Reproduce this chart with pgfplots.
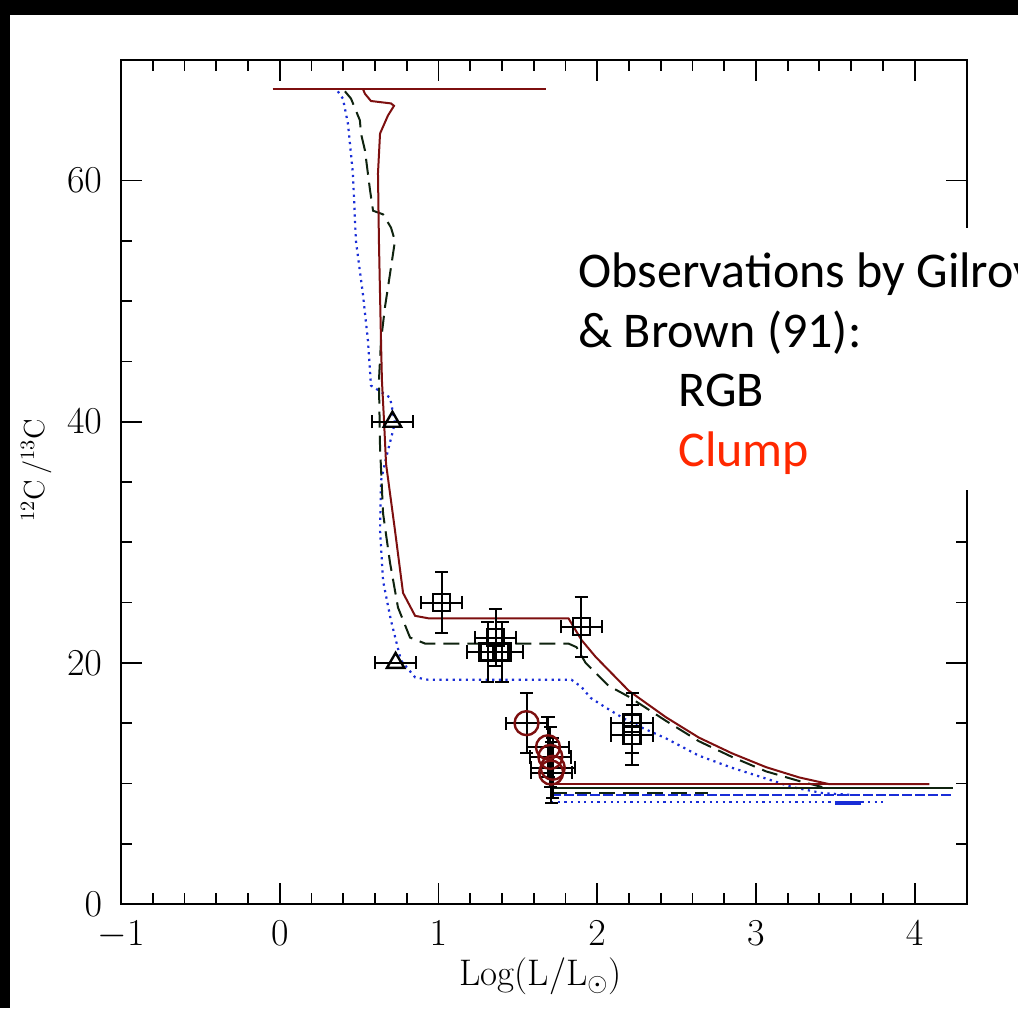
\RequirePackage{fix-cm}
\documentclass[border=0pt]{standalone}
\usepackage{pgfplots}
\pgfplotsset{compat=1.18}
\usepackage{fontspec}
\newfontfamily\calibri{Carlito}
\definecolor{dred}{RGB}{125,15,15}
\definecolor{dblue}{RGB}{25,45,215}
\definecolor{dgreen}{RGB}{15,35,15}
\definecolor{clumpred}{RGB}{255,40,0}
\begin{document}
\begin{tikzpicture}[x=1pt,y=1pt]
\path[use as bounding box] (0,0) rectangle (509,504);
\fill[white] (0,0) rectangle (509,504);
\fill[black] (0,0) rectangle (5,504);
\fill[black] (0,496.5) rectangle (509,504);
\begin{axis}[at={(60.5pt,52pt)}, anchor=south west, scale only axis,
  width=423pt, height=422pt,
  xmin=-1, xmax=4.33, ymin=0, ymax=70,
  xtick={-1,0,1,2,3,4}, minor x tick num=4,
  ytick={0,20,40,60}, minor y tick num=3,
  major tick length=10.5pt, minor tick length=5.3pt,
  axis line style={line width=1.1pt},
  every tick/.style={line width=0.9pt, black},
  ticklabel style={font=\fontsize{19}{22}\selectfont},
  xticklabel style={yshift=-5.2pt},
  yticklabel style={xshift=-6pt},
  xlabel={Log(L/L$_\odot$)},
  xlabel style={at={(axis description cs:0.496,-0.086)}, anchor=center, font=\fontsize{18.5}{21}\selectfont},
  ylabel={$^{12}$C$\,$/$^{13}$C},
  ylabel style={at={(axis description cs:-0.1,0.514)}, anchor=center, font=\fontsize{14.5}{17}\selectfont},
]
% top horizontal (dark red)
\addplot[dred, line width=1pt] coordinates {(-0.044,67.6) (1.68,67.6)};
% blue dotted track
\addplot[dblue, line width=1.1pt, dash pattern=on 1.1pt off 2.2pt] coordinates {
(0.366,67.4) (0.398,66.8) (0.430,64.7) (0.461,60.6) (0.480,55.0) (0.524,50.6)
(0.556,46.7) (0.575,43.0) (0.695,42.0) (0.726,39.9) (0.670,37.0) (0.638,35.1)
(0.632,31.0) (0.651,26.8) (0.701,23.5) (0.764,20.2) (0.853,18.8) (0.935,18.6)
(1.838,18.6) (1.901,18.0) (1.958,17.1) (2.053,16.3) (2.217,15.0) (2.432,13.75)
(2.641,12.3) (2.849,11.3) (3.064,10.4) (3.228,9.7) (3.418,9.2) (3.60,9.05)};
\addplot[dblue, line width=1.1pt, dash pattern=on 5pt off 1.5pt] coordinates {(1.71,9.03) (4.24,9.03)};
\addplot[dblue, line width=1.1pt, dash pattern=on 1.1pt off 2.2pt] coordinates {(1.71,8.48) (3.80,8.48)};
\addplot[dblue, line width=1.8pt] coordinates {(3.50,8.40) (3.66,8.40)};
% black dashed track
\addplot[dgreen, line width=1pt, dash pattern=on 8pt off 4pt] coordinates {
(0.411,67.4) (0.449,66.8) (0.505,65.0) (0.512,63.9) (0.537,62.5) (0.569,59.2)
(0.588,57.5) (0.651,57.2) (0.701,56.1) (0.726,55.0) (0.701,52.8) (0.663,49.5)
(0.638,46.7) (0.625,43.4) (0.632,37.9) (0.651,32.4) (0.695,28.3) (0.745,24.6)
(0.821,22.1) (0.916,21.6) (1.819,21.6) (1.870,21.3) (1.927,20.0) (2.072,18.1)
(2.198,17.2) (2.432,15.2) (2.641,13.5) (2.849,12.2) (3.064,11.0) (3.272,10.2)
(3.418,9.7)};
\addplot[dgreen, line width=1pt] coordinates {(1.71,9.65) (4.24,9.65)};
\addplot[dgreen, line width=1pt, dash pattern=on 8pt off 4pt] coordinates {(1.71,9.2) (2.70,9.2)};
% dark red solid track
\addplot[dred, line width=1pt] coordinates {
(0.524,67.6) (0.537,67.2) (0.575,66.6) (0.701,66.4) (0.720,66.2) (0.682,65.4)
(0.632,63.9) (0.619,60.6) (0.625,55.0) (0.638,46.7) (0.644,43.4) (0.657,40.1)
(0.670,36.5) (0.726,31.0) (0.777,25.8) (0.853,23.9) (0.935,23.7) (1.819,23.7)
(1.901,21.9) (1.990,20.5) (2.198,17.7) (2.432,15.5) (2.641,13.8) (2.849,12.5)
(3.064,11.35) (3.272,10.5) (3.462,9.94) (4.093,9.94)};
\addplot[dred, line width=1pt] coordinates {(1.71,9.94) (3.46,9.94)};
% RGB squares
\addplot[black, only marks, mark=square, mark size=4.3pt, mark options={line width=1.2pt},
  error bars/.cd, x dir=both, y dir=both, x explicit, y explicit,
  error bar style={line width=1pt, black}, error mark options={rotate=90, line width=1pt, mark size=3.3pt, black}]
  table[x=x, y=y, x error=ex, y error=ey] {
x y ex ey
1.02 25.0 0.13 2.5
1.36 22.1 0.13 2.4
1.31 20.9 0.13 2.5
1.40 20.9 0.13 2.5
1.90 23.0 0.13 2.5
2.22 15.0 0.13 2.5
2.22 14.0 0.13 2.5
};
% triangles
\addplot[black, only marks, mark=triangle, mark size=5pt, mark options={line width=1.2pt},
  error bars/.cd, x dir=both, x explicit,
  error bar style={line width=1pt, black}, error mark options={rotate=90, line width=1pt, mark size=3.3pt, black}]
  table[x=x, y=y, x error=ex] {
x y ex
0.71 40.0 0.13
0.73 20.0 0.13
};
% clump circles
\addplot[dred, only marks, mark=o, mark size=6pt, mark options={line width=1.2pt, dred},
  error bars/.cd, x dir=both, y dir=both, x explicit, y explicit,
  error bar style={line width=1pt, black}, error mark options={rotate=90, line width=1pt, mark size=3.3pt, black}]
  table[x=x, y=y, x error=ex, y error=ey] {
x y ex ey
1.555 15.0 0.13 2.5
1.69 13.0 0.13 2.5
1.705 12.2 0.13 2.5
1.72 11.3 0.14 2.5
1.71 10.9 0.13 2.5
};
\end{axis}
\fill[white] (280,259) rectangle (509,390);
\node[anchor=base west, inner sep=0, font=\calibri\fontsize{25}{30}\selectfont] at (289,360) {Observations by Gilroy};
\node[anchor=base west, inner sep=0, font=\calibri\fontsize{25}{30}\selectfont] at (289,330) {\& Brown (91):};
\node[anchor=base west, inner sep=0, font=\calibri\fontsize{25}{30}\selectfont] at (339,300.5) {RGB};
\node[anchor=base west, inner sep=0, font=\calibri\fontsize{25}{30}\selectfont, text=clumpred] at (339,270.5) {Clump};
\end{tikzpicture}
\end{document}
